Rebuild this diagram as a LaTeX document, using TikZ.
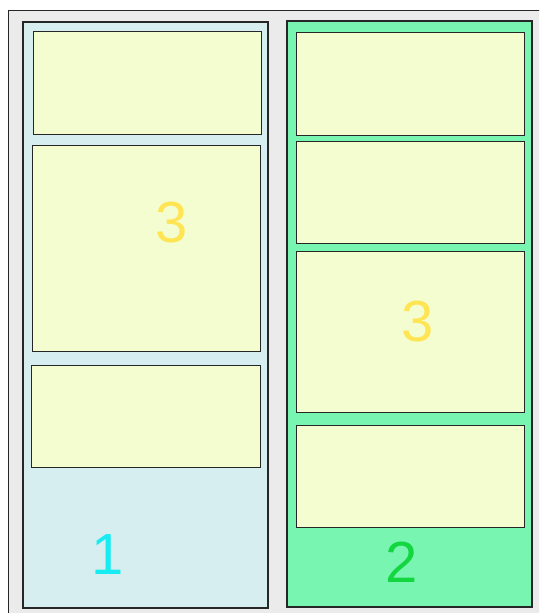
\documentclass[tikz,border=0pt]{standalone}
\usepackage{fontspec}
\setmainfont{Liberation Sans}
\usepackage{xcolor}
\usetikzlibrary{positioning}
\definecolor{framegray}{RGB}{235,235,235}
\definecolor{paleblue}{RGB}{214,238,240}
\definecolor{mintgreen}{RGB}{120,245,176}
\definecolor{cellyellow}{RGB}{243,253,208}
\definecolor{numcyan}{RGB}{22,236,242}
\definecolor{numgreen}{RGB}{20,214,64}
\definecolor{numyellow}{RGB}{255,228,84}
\tikzset{
  column/.style={rectangle, draw=black!85, line width=1.3pt, inner sep=0pt,
                 outer sep=0pt, anchor=north west},
  cell/.style={rectangle, draw=black!85, fill=cellyellow, line width=1pt,
               inner sep=0pt, outer sep=0pt, anchor=north west},
  digit/.style={inner sep=0pt, font=\fontsize{58}{58}\selectfont},
}

\begin{document}
\begin{tikzpicture}[x=1pt, y=-1pt]
  \useasboundingbox (0,0) rectangle (539,613);
  \clip (0,0) rectangle (539,613);
  % frame
  \node[column, fill=framegray, line width=1pt, minimum width=560pt,
        minimum height=620pt] (frame) at (8,10) {};

  % left column
  \node[column, fill=paleblue, minimum width=245pt, minimum height=586pt]
    (colA) at (23,22) {};
  \node[cell, minimum width=228pt, minimum height=103pt] (a1) at (33,31) {};
  \node[cell, minimum width=228pt, minimum height=206pt] (a2) at (32,145) {};
  \node[cell, minimum width=229pt, minimum height=102pt] (a3) at (31,365) {};

  % right column
  \node[column, fill=mintgreen, minimum width=245pt, minimum height=586pt]
    (colB) at (287,21) {};
  \node[cell, minimum width=228pt, minimum height=103pt] (b1) at (296,32) {};
  \node[cell, minimum width=228pt, minimum height=102pt] (b2) at (296,141) {};
  \node[cell, minimum width=228pt, minimum height=161pt] (b3) at (296,251) {};
  \node[cell, minimum width=228pt, minimum height=102pt] (b4) at (296,425) {};

  % numbers
  \node[digit, text=numcyan]   (n1)  at (108,555) {1};
  \node[digit, text=numgreen]  (n2)  at (402,562) {2};
  \node[digit, text=numyellow] (n3a) at (172,223) {3};
  \node[digit, text=numyellow] (n3b) at (418,322) {3};
\end{tikzpicture}
\end{document}
